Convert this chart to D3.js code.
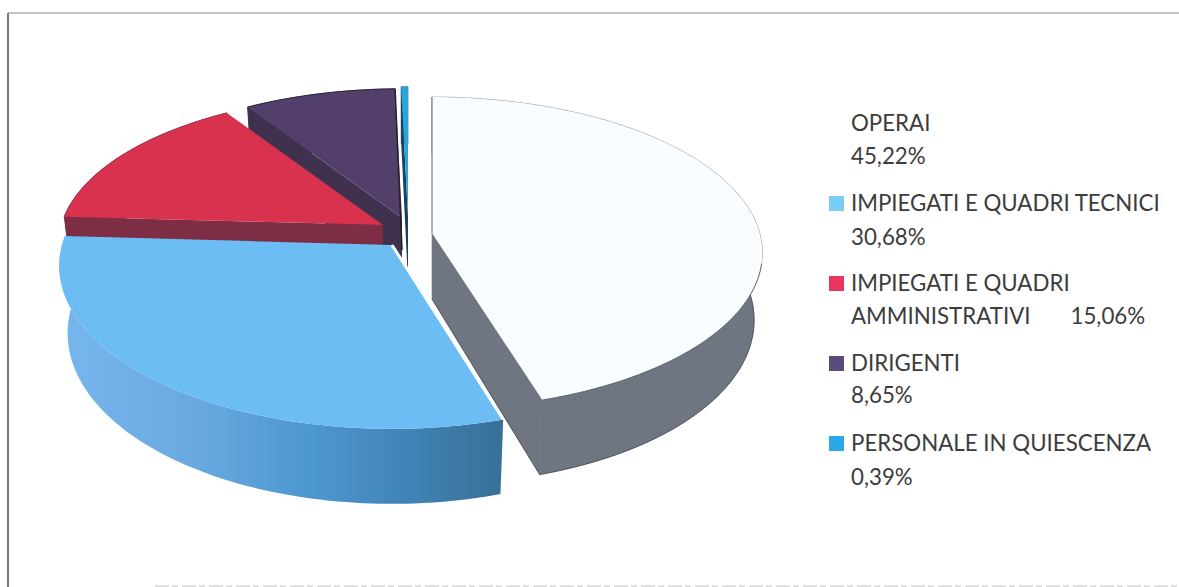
<!DOCTYPE html>
<html>
<head>
<meta charset="utf-8">
<script src="https://cdn.jsdelivr.net/npm/d3@7"></script>
<style>
html,body{margin:0;padding:0;background:#fff;overflow:hidden}
svg{display:block}
text{font-family:Lato,"Open Sans",sans-serif;fill:#3c3c3c}
</style>
</head>
<body>
<svg id="c" width="1179" height="587"></svg>
<script>
// ---- data ----
const categories = ["OPERAI","IMPIEGATI E QUADRI TECNICI","IMPIEGATI E QUADRI AMMINISTRATIVI","DIRIGENTI","PERSONALE IN QUIESCENZA"];
const shares = [45.22,30.68,15.06,8.65,0.39];
const legendLines = [
  ["OPERAI","45,22%"],
  ["IMPIEGATI E QUADRI TECNICI","30,68%"],
  ["IMPIEGATI E QUADRI","AMMINISTRATIVI       15,06%"],
  ["DIRIGENTI","8,65%"],
  ["PERSONALE IN QUIESCENZA","0,39%"]
];

// ---- styling and layout ----
const faceColors = ["#fafdff","#6cbdf4","#d8304f","#52406a","#27a6dc"];
const wallColors = ["#6f7681","url(#blueWall)","#7d2f45","#3f3250","#1d3f5c"];
const swatchColors = ["#ffffff","#7ccdf6","#e8365f","#5b4a7c","#2aa9e6"];
// exploded-slice apex and per-slice scale of the projected disc
const apexX = [432,392,383,402,408];
const apexY = [233,245,225,218,216];
const scaleX = [.978,.985,.96,.95,.95];
const scaleY = [1,1.045,.96,.95,.95];
const drawOrder = [4,3,2,0,1];

const svg = d3.select("#c");
const defs = svg.append("defs");
const grad = defs.append("linearGradient").attr("id","blueWall")
  .attr("gradientUnits","userSpaceOnUse").attr("x1",60).attr("x2",505).attr("y1",0).attr("y2",0);
[[0,"#76b6ee"],[.3,"#6aa9e0"],[.55,"#4e98d2"],[.8,"#3f82b4"],[1,"#376f96"]]
  .forEach(([o,c])=>grad.append("stop").attr("offset",o).attr("stop-color",c));
defs.append("filter").attr("id","scan").attr("x","-5%").attr("y","-5%").attr("width","110%").attr("height","110%")
  .append("feGaussianBlur").attr("stdDeviation",0.45);

// frame
svg.append("line").attr("x1",8).attr("x2",8).attr("y1",13).attr("y2",587).attr("stroke","#333").attr("stroke-width",1.3);
svg.append("line").attr("x1",8).attr("x2",1179).attr("y1",13).attr("y2",13).attr("stroke","#8a8a8a").attr("stroke-width",1.2);
svg.append("line").attr("x1",155).attr("x2",1179).attr("y1",586).attr("y2",586).attr("stroke","#c4c4c4").attr("stroke-dasharray","14 3 6 4");

// pie layout in angles, clockwise from the top
const slices = d3.pie().sort(null).value(d=>d)(shares);

// perspective projection of the unit disc
const Rx = 335, Ry = 153.4, k = 0.128;
function proj(i, a, bottom){
  const u = Math.sin(a), v = -Math.cos(a), w = 1 - k*v;
  const bx = bottom ? .975 : 1;
  const depth = bottom ? 66 + 9*v : 0;
  return [apexX[i] + scaleX[i]*bx*Rx*u/w, apexY[i] + scaleY[i]*Ry*v/w + depth];
}
const line = d3.line().curve(d3.curveLinear);
const stepAngles = (a0,a1)=>{
  const n = Math.max(2, Math.ceil((a1-a0)/0.02));
  return d3.range(n+1).map(j=>a0+(a1-a0)*j/n);
};
const g = svg.append("g").attr("filter","url(#scan)");

drawOrder.forEach(i=>{
  const s = slices[i], a0 = s.startAngle, a1 = s.endAngle, A = stepAngles(a0,a1);
  const apexTop = [apexX[i],apexY[i]], apexBot = [apexX[i],apexY[i]+66];
  const sl = g.append("g").attr("class","slice").attr("data-cat",categories[i]);
  // outer wall
  const wallPts = A.map(a=>proj(i,a,false)).concat(A.slice().reverse().map(a=>proj(i,a,true)));
  sl.append("path").attr("d",line(wallPts)+"Z").attr("fill",wallColors[i])
    .attr("stroke",i===1?"none":wallColors[i]).attr("stroke-width",.6);
  // visible radial walls
  if(-Math.sin(a0) > -0.05){
    sl.append("path").attr("d",line([apexTop,proj(i,a0,false),proj(i,a0,true),apexBot])+"Z")
      .attr("fill",wallColors[i]);
  }
  if(Math.sin(a1) > 0){
    sl.append("path").attr("d",line([apexTop,proj(i,a1,false),proj(i,a1,true),apexBot])+"Z")
      .attr("fill",wallColors[i]).attr("stroke",wallColors[i]).attr("stroke-width",.6);
  }
  if(i===0){
    // dark outline of the lower silhouette, painted before the face hides its back part
    sl.append("path").attr("d",line([apexBot,proj(i,a1,true)].concat(A.slice().reverse().map(a=>proj(i,a,true)))))
      .attr("fill","none").attr("stroke","#3a4048").attr("stroke-width",.7);
  }
  // top face
  const facePts = [apexTop].concat(A.map(a=>proj(i,a,false)));
  sl.append("path").attr("d",line(facePts)+"Z").attr("fill",faceColors[i]);
  // edges as seen in the picture
  if(i===0){
    sl.append("path").attr("d",line([proj(i,a0,false),apexTop]))
      .attr("fill","none").attr("stroke","#4a5560").attr("stroke-width",.9);
    sl.append("path").attr("d",line(A.filter(a=>a>1.75).map(a=>proj(i,a,false))))
      .attr("fill","none").attr("stroke","#39424c").attr("stroke-width",.7);
  }
  if(i===1){
    sl.append("path").attr("d",line([proj(i,a0,false),apexTop]))
      .attr("fill","none").attr("stroke","#ffffff").attr("stroke-width",3);
  }
  if(i===2){
    sl.append("path").attr("d",line(A.map(a=>proj(i,a,false))))
      .attr("fill","none").attr("stroke","#a8304e").attr("stroke-width",1);
  }
  if(i===3){
    sl.append("path").attr("d",line(A.map(a=>proj(i,a,false))))
      .attr("fill","none").attr("stroke","#2e2538").attr("stroke-width",1);
    sl.append("path").attr("d",line([proj(i,a1,false),[apexX[i],apexY[i]+32]]))
      .attr("fill","none").attr("stroke","#20202c").attr("stroke-width",1.5);
  }
});

// legend
const rowY = d3.scalePoint().domain(d3.range(5)).range([123,443]);
const lineGap = [33,34,33,32,34];
const lg = svg.append("g");
categories.forEach((c,i)=>{
  const y = rowY(i);
  lg.append("rect").attr("x",829).attr("y",y-7).attr("width",15).attr("height",15).attr("fill",swatchColors[i]);
  legendLines[i].forEach((t,j)=>{
    lg.append("text").attr("x",851).attr("y",y+j*lineGap[i]).attr("dy","0.35em")
      .attr("font-size",22.3).style("white-space","pre").text(t);
  });
});
</script>
</body>
</html>
